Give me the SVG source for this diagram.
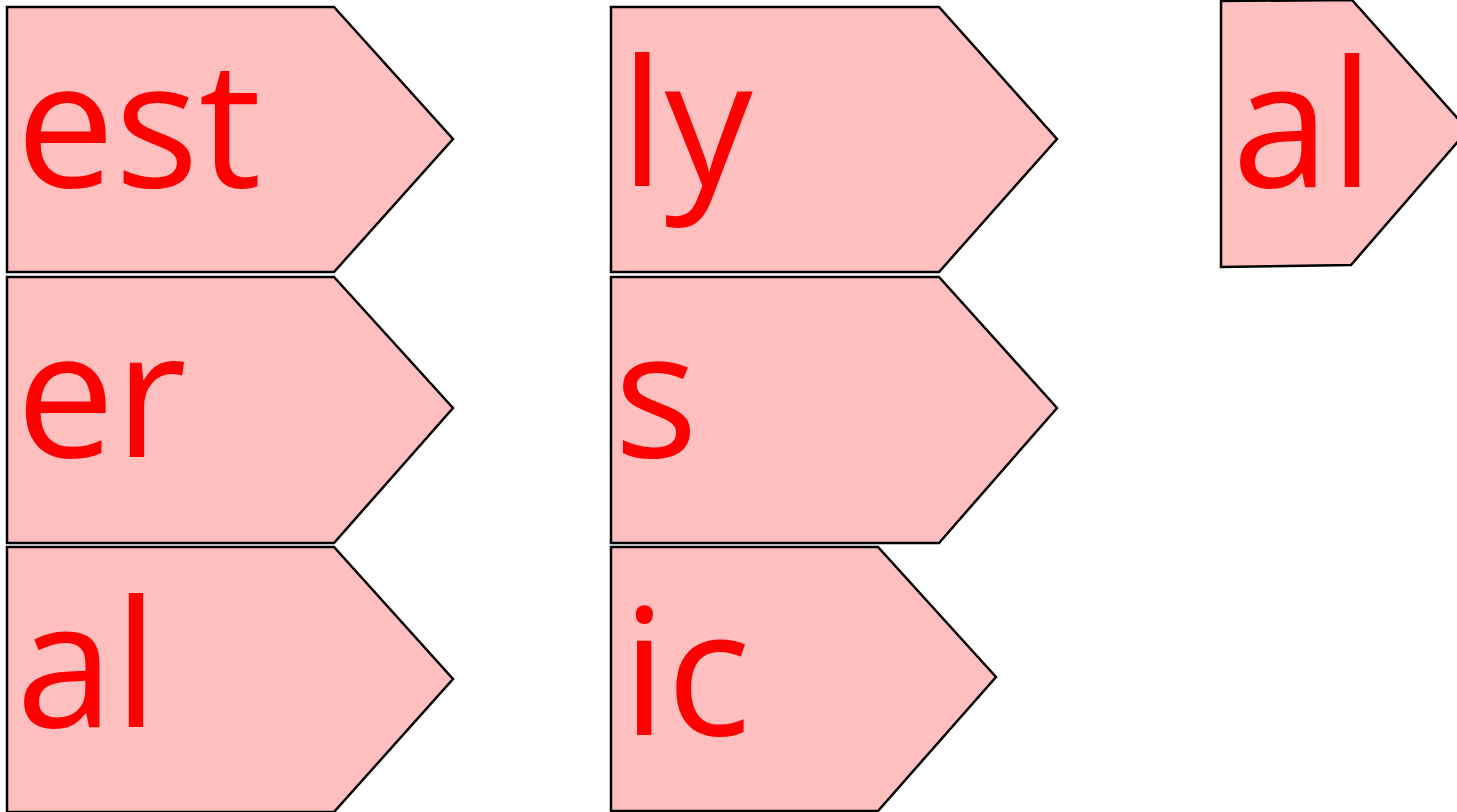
<svg xmlns="http://www.w3.org/2000/svg" width="1457" height="812" viewBox="0 0 1457 812">
<style>
.s{fill:#ffbfbf;stroke:#000;stroke-width:2.5;stroke-linejoin:miter}
.t{fill:#ff0000;font-family:"Open Sans","Noto Sans",sans-serif;font-size:176px}
</style>
<rect width="1457" height="812" fill="#fff"/>
<g id="n1"><polygon class="s" points="7,7 334,7 453,139 334,272 7,272"/><text class="t" x="16" y="187">est</text></g>
<g id="n2"><polygon class="s" points="7,277 334,277 453,408 334,543 7,543"/><text class="t" x="16" y="457">er</text></g>
<g id="n3"><polygon class="s" points="7,547 334,547 453,679 334,812 7,812"/><text class="t" x="16" y="727">al</text></g>
<g id="n4"><polygon class="s" points="611,7 939,7 1057,139 939,272 611,272"/><text class="t" x="620" y="186">ly</text></g>
<g id="n5"><polygon class="s" points="611,277 939,277 1057,408 939,543 611,543"/><text class="t" x="614" y="457">s</text></g>
<g id="n6"><polygon class="s" points="611,547 878,547 996,677 878,811 611,811"/><text class="t" x="622" y="735">ic</text></g>
<g id="n7"><polygon class="s" points="1221,1 1352,0 1468,130 1351,265 1221,267"/><text class="t" x="1232" y="187">al</text></g>
<g id="connectors"></g>
</svg>
